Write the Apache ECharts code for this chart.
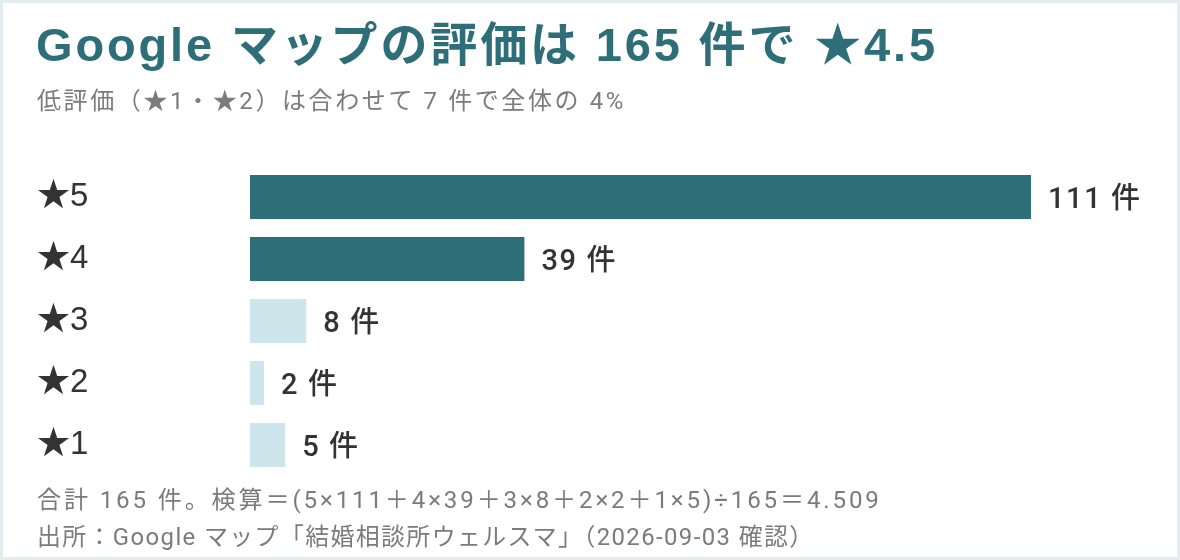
<!DOCTYPE html>
<html><head><meta charset="utf-8">
<script src="https://cdn.jsdelivr.net/npm/echarts@6/dist/echarts.min.js"></script>
<style>html,body{margin:0;padding:0;background:#e3edf0;}#c{width:1180px;height:560px;}</style>
</head><body><div id="c"></div>
<script>
const categories = ['★5', '★4', '★3', '★2', '★1'];
const counts = [111, 39, 8, 2, 5];
const highlight = [true, true, false, false, false];
const titleText = 'Google マップの評価は 165 件で ★4.5';
const subtitleText = '低評価（★1・★2）は合わせて 7 件で全体の 4%';
const footer1 = '合計 165 件。検算＝(5×111＋4×39＋3×8＋2×2＋1×5)÷165＝4.509';
const footer2 = '出所：Google マップ「結婚相談所ウェルスマ」（2026-09-03 確認）';
const unit = ' 件';

// letter spacing keyed by font size string (canvas letterSpacing)
const SPACING = {'24': '2.6px', '24.1': '2.85px', '23.9': '1.4px', '29': '1.6px', '47': '2.85px'};
const origFill = CanvasRenderingContext2D.prototype.fillText;
CanvasRenderingContext2D.prototype.fillText = function (t, x, y, w) {
  const m = /(\d+(?:\.\d+)?)px/.exec(this.font);
  const s = m ? String(+m[1]) : '';
  if ('letterSpacing' in this) this.letterSpacing = SPACING[s] || '0px';
  return w === undefined ? origFill.call(this, t, x, y) : origFill.call(this, t, x, y, w);
};

const CJK = '"Noto Sans CJK JP", sans-serif';
const LAT = '"Liberation Sans", ' + CJK;
const ROB = 'Roboto, ' + CJK;
const chart = echarts.init(document.getElementById('c'));
chart.setOption({
  backgroundColor: '#e3edf0',
  animation: false,
  graphic: [
    {type: 'rect', shape: {x: 3, y: 3, width: 1174, height: 554}, style: {fill: '#ffffff'}, z: -10},
    {type: 'text', left: 36, top: 25, style: {text: titleText, font: 'bold 47px ' + LAT, fill: '#2e6e78'}},
    {type: 'text', left: 37, top: 91, style: {text: subtitleText, font: '24px ' + ROB, fill: '#7b7b7b'}},
    {type: 'text', left: 37, top: 490, style: {text: footer1, font: '24.1px ' + ROB, fill: '#7b7b7b'}},
    {type: 'text', left: 37, top: 527, style: {text: footer2, font: '23.9px ' + ROB, fill: '#7b7b7b'}}
  ],
  grid: {left: 250, top: 166, width: 781, height: 310, containLabel: false},
  xAxis: {type: 'value', min: 0, max: 'dataMax', show: false},
  yAxis: {
    type: 'category', data: categories, inverse: true,
    axisLine: {show: false}, axisTick: {show: false},
    axisLabel: {align: 'left', margin: 213, fontSize: 33, color: '#333333', fontFamily: LAT, padding: [13, 0, 0, 0]}
  },
  series: [{
    type: 'bar', barCategoryGap: '29%',
    data: counts.map((v, i) => ({value: v, itemStyle: {color: highlight[i] ? '#2e6e78' : '#cde6eb'}})),
    label: {show: true, position: 'right', distance: 17, offset: [0, 4], formatter: p => p.value + unit,
      fontSize: 29, fontWeight: 500, color: '#333333', fontFamily: ROB}
  }]
});
</script></body></html>
